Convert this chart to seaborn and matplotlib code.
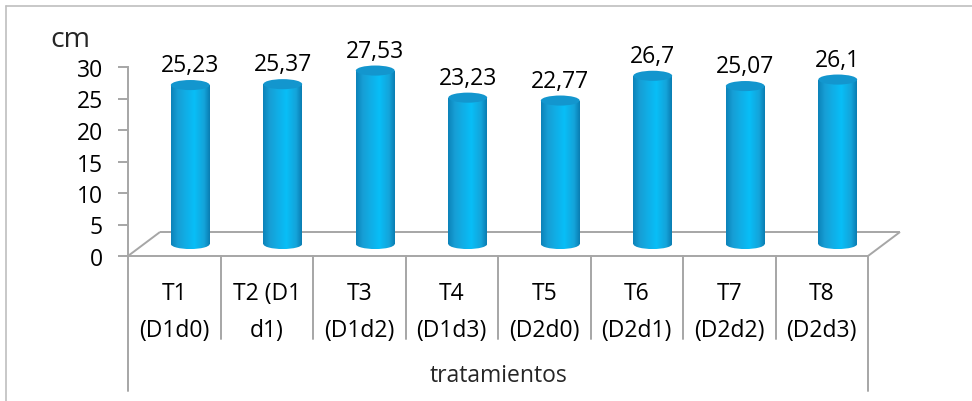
import numpy as np
import matplotlib
matplotlib.use("Agg")
import matplotlib.pyplot as plt
import matplotlib.transforms as mtransforms
import seaborn as sns
from matplotlib.colors import LinearSegmentedColormap
from matplotlib.patches import Ellipse
from matplotlib.lines import Line2D

# data
tratamientos = ["T1\n(D1d0)", "T2 (D1\nd1)", "T3\n(D1d2)", "T4\n(D1d3)",
                "T5\n(D2d0)", "T6\n(D2d1)", "T7\n(D2d2)", "T8\n(D2d3)"]
altura_cm = [25.23, 25.37, 27.53, 23.23, 22.77, 26.7, 25.07, 26.1]
y_ticks = [0, 5, 10, 15, 20, 25, 30]

sns.set_theme(style="white")
plt.rcParams["font.family"] = ["Open Sans", "DejaVu Sans"]

W, H = 972, 402
fig = plt.figure(figsize=(W / 100, H / 100), dpi=100)


def box(left, top, right, bottom):
    return [left / W, 1 - bottom / H, (right - left) / W, (bottom - top) / H]


gray = "#A6A6A6"
fs = 16.5
ppu = 189 / 30          # pixels per cm on the value axis
ax = fig.add_axes(box(128, 68, 868, 257))     # front plane (axes, floor)
# mid-depth plane for the cylinders, extended 2 units below zero
axb = fig.add_axes(box(144, 56, 884, 245 + 2 * ppu))
for a in (ax, axb):
    a.patch.set_visible(False)

# --- front axes: y axis, floor, category labels
ax.set_xlim(-0.5, 7.5)
ax.set_ylim(0, 30)
for s in ("top", "right"):
    ax.spines[s].set_visible(False)
for s in ("left", "bottom"):
    ax.spines[s].set_color(gray)
    ax.spines[s].set_linewidth(1.4)
ax.set_yticks(y_ticks)
ax.set_yticklabels([str(t) for t in y_ticks])
ax.tick_params(axis="y", left=True, length=7, width=1.4, color=gray,
               labelsize=fs, pad=11, labelcolor="black")
ax.set_xticks(range(len(tratamientos)))
ax.set_xticklabels(tratamientos)
ax.tick_params(axis="x", length=0, labelsize=fs, pad=18, labelcolor="black")
for t in ax.get_xticklabels():
    t.set_linespacing(1.7)

# floor depth (twice the offset of the cylinder plane)
dx, dy = 0.346, 3.81
kw = dict(color=gray, lw=1.4, clip_on=False, solid_capstyle="butt")
ax.plot([-0.5, -0.5 + dx], [0, dy], **kw)
ax.plot([-0.5 + dx, 7.5 + dx], [dy, dy], **kw)
ax.plot([7.5, 7.5 + dx], [0, dy], **kw)

# category separators under the axis
trans = mtransforms.blended_transform_factory(ax.transData, ax.transAxes)
for i in range(len(tratamientos) + 1):
    xb = i - 0.5
    low = -0.714 if i in (0, len(tratamientos)) else -0.44
    ax.add_line(Line2D([xb, xb], [0, low], transform=trans, color=gray,
                       lw=1.4, clip_on=False))

ax.text(0.5, -0.63, "tratamientos", transform=ax.transAxes, ha="center",
        va="center", fontsize=fs)
fig.text(70 / W, 1 - 40 / H, "cm", ha="center", va="center", fontsize=20.5)

# --- cylinders
cyl = LinearSegmentedColormap.from_list(
    "cyl", [(0, "#0C82B8"), (0.18, "#179FD6"), (0.6, "#08BEF7"),
            (0.85, "#14A4DA"), (1, "#0A7CB1")])
cap_color = "#1396CE"
cap = 1.6

sns.barplot(x=tratamientos, y=altura_cm, ax=axb, color="#17A6DD", width=0.42)
grad = np.linspace(0, 1, 256).reshape(1, -1)
for p, v in zip(axb.patches, altura_cm):
    x0, w, h = p.get_x(), p.get_width(), p.get_height()
    xc = x0 + w / 2
    p.set_facecolor("none")
    p.set_edgecolor("none")
    im = axb.imshow(grad, cmap=cyl, extent=[x0, x0 + w, 0, h],
                    aspect="auto", zorder=2, interpolation="bilinear")
    im.set_clip_path(p)
    bottom = Ellipse((xc, 0), w, cap, transform=axb.transData)
    im2 = axb.imshow(grad, cmap=cyl, extent=[x0, x0 + w, -cap / 2, cap / 2],
                     aspect="auto", zorder=2, interpolation="bilinear")
    im2.set_clip_path(bottom)
    axb.add_patch(Ellipse((xc, h), w, cap, facecolor=cap_color,
                          edgecolor="none", zorder=3))
    axb.annotate(f"{v}".replace(".", ","), xy=(xc, h), xytext=(0, 10),
                 textcoords="offset points", ha="center", va="baseline",
                 fontsize=fs, color="black")

axb.set_xlim(-0.5, 7.5)
axb.set_ylim(-2, 30)
axb.axis("off")

# outer chart border (left and top visible in the reference)
bc = "#BFBFBF"
fig.add_artist(Line2D([6 / W, 6 / W], [0, 1 - 7 / H], color=bc, lw=1.2))
fig.add_artist(Line2D([6 / W, 1], [1 - 7 / H, 1 - 7 / H], color=bc, lw=1.2))

fig.savefig("out.png", dpi=100)
